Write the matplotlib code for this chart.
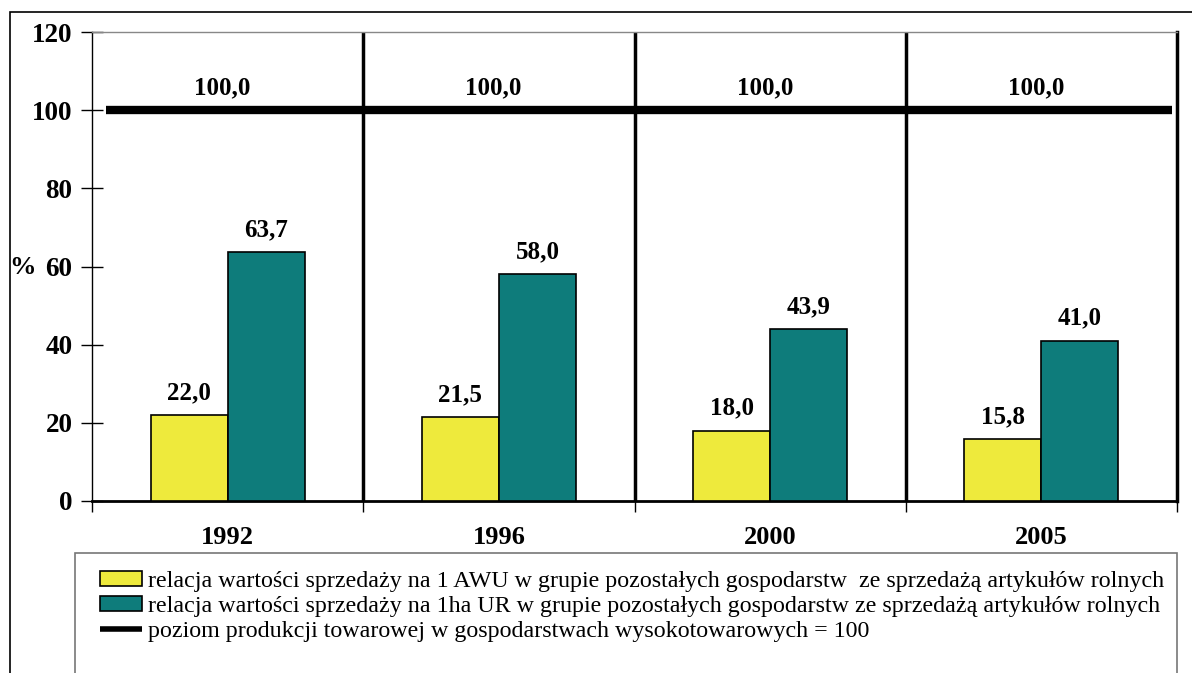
import matplotlib
matplotlib.use("Agg")
import matplotlib.pyplot as plt
from matplotlib.patches import Rectangle
from matplotlib.lines import Line2D
import numpy as np

years = ["1992", "1996", "2000", "2005"]
awu_values = [22.0, 21.5, 18.0, 15.8]
ha_values = [63.7, 58.0, 43.9, 41.0]
level_values = [100.0, 100.0, 100.0, 100.0]
yticks = [0, 20, 40, 60, 80, 100, 120]
labels = [
    "relacja wartości sprzedaży na 1 AWU w grupie pozostałych gospodarstw  ze sprzedażą artykułów rolnych",
    "relacja wartości sprzedaży na 1ha UR w grupie pozostałych gospodarstw ze sprzedażą artykułów rolnych",
    "poziom produkcji towarowej w gospodarstwach wysokotowarowych = 100",
]

def fmt(v):
    return f"{v:.1f}".replace(".", ",")

plt.rcParams['font.family'] = ['Liberation Serif', 'DejaVu Serif']

W, H = 1192, 673
fig = plt.figure(figsize=(W / 100, H / 100), dpi=100)
ax = fig.add_axes([92 / W, 1 - 501 / H, (1177 - 92) / W, (501 - 32) / H])

yellow = "#EEEA3C"
teal = "#0E7C7B"
x = np.arange(len(years))
bw = 0.284

ax.bar(x - bw / 2, awu_values, bw, color=yellow, edgecolor="black", linewidth=1.2, zorder=3)
ax.bar(x + bw / 2, ha_values, bw, color=teal, edgecolor="black", linewidth=1.2, zorder=3)

# level line spanning categories
lx = np.array([-0.45, 0.5, 1.5, 2.5, 3.48])
ax.plot(lx, [level_values[0]] + level_values, color="black", linewidth=6, solid_capstyle="butt", zorder=4)

LBL = 18
for xi, v in zip(x - bw / 2, awu_values):
    ax.annotate(fmt(v), (xi, v), xytext=(0, 8), textcoords="offset points",
                ha="center", va="bottom", fontsize=LBL, fontweight="bold")
for xi, v in zip(x + bw / 2, ha_values):
    ax.annotate(fmt(v), (xi, v), xytext=(0, 8), textcoords="offset points",
                ha="center", va="bottom", fontsize=LBL, fontweight="bold")
for xi, v in zip(x, level_values):
    ax.annotate(fmt(v), (xi - 0.02, v), xytext=(0, 8), textcoords="offset points",
                ha="center", va="bottom", fontsize=LBL, fontweight="bold")

# category separators
for b in [0.5, 1.5, 2.5]:
    ax.axvline(b, color="black", linewidth=2.5, zorder=2)

ax.set_xlim(-0.5, 3.5)
ax.set_ylim(0, 120)
ax.set_yticks(yticks)
ax.set_yticklabels([str(t) for t in yticks], fontsize=19.5, fontweight="bold")
ax.tick_params(axis="y", direction="inout", length=16, width=1, pad=6)
ax.set_xticks([-0.5, 0.5, 1.5, 2.5, 3.5])
ax.set_xticklabels([])
ax.tick_params(axis="x", direction="out", length=8, width=1)
for xi, y in zip(x, years):
    ax.text(xi, -0.077, y, transform=ax.get_xaxis_transform(), ha="center", va="center",
            fontsize=19, fontweight="bold")

ax.spines["top"].set_color("#888888")
ax.spines["top"].set_linewidth(1)
ax.spines["right"].set_linewidth(2.5)
ax.spines["bottom"].set_linewidth(2)
ax.spines["left"].set_linewidth(1)

fig.text(22 / W, 1 - 268 / H, "%", fontsize=19, fontweight="bold", ha="center", va="center")

# outer frame
fig.patches.append(Rectangle((10 / W, -0.2), 1.3, 1 - 12 / H + 0.2, transform=fig.transFigure,
                             fill=False, edgecolor="black", linewidth=1.2))
# legend frame
fig.patches.append(Rectangle((75 / W, -0.2), (1177 - 75) / W, 1 - 553 / H + 0.2, transform=fig.transFigure,
                             fill=False, edgecolor="#777777", linewidth=1.2))

handles = [
    Rectangle((0, 0), 1, 1, facecolor=yellow, edgecolor="black", linewidth=1.2),
    Rectangle((0, 0), 1, 1, facecolor=teal, edgecolor="black", linewidth=1.2),
    Line2D([0], [0], color="black", linewidth=4, solid_capstyle="butt"),
]
fig.legend(handles, labels, loc="upper left", bbox_to_anchor=(100 / W, 1 - 571 / H),
           frameon=False, fontsize=17.3, handlelength=1.75, handleheight=0.6,
           handletextpad=0.25, labelspacing=0.17, borderaxespad=0, borderpad=0)

fig.savefig("out.png", dpi=100)
